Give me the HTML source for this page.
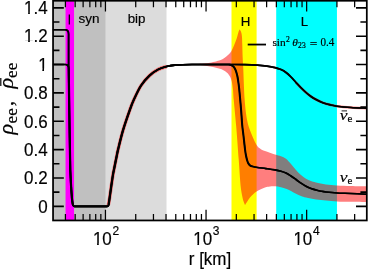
<!DOCTYPE html>
<html><head><meta charset="utf-8"><title>plot</title><style>html,body{margin:0;padding:0;background:#fff;width:368px;height:269px;overflow:hidden}svg{display:block}text{fill:#000}.tx text{stroke:#000;stroke-width:0.18px}.tx{will-change:transform}</style></head><body>
<svg width="368" height="269" viewBox="0 0 368 269">
<rect width="368" height="269" fill="#fff"/>
<rect x="53.05" y="0.75" width="52.75" height="219.70" fill="#c0c0c0"/>
<rect x="105.80" y="0.75" width="60.70" height="219.70" fill="#dcdcdc"/>
<rect x="65.55" y="0.75" width="8.50" height="219.70" fill="#ff00ff"/>
<rect x="231.50" y="0.75" width="25.10" height="219.70" fill="#ffff00"/>
<rect x="276.20" y="0.75" width="60.75" height="219.70" fill="#00ffff"/>
<g opacity="0.5"><path d="M197.00 64.05 C198.17 63.97 201.83 63.78 204.00 63.55 C206.17 63.32 208.00 63.00 210.00 62.65 C212.00 62.30 214.33 61.83 216.00 61.45 C217.67 61.07 218.67 60.87 220.00 60.35 C221.33 59.82 222.67 59.19 224.00 58.30 C225.33 57.41 226.75 56.23 228.00 55.00 C229.25 53.77 230.50 52.47 231.50 50.90 C232.50 49.33 233.17 47.58 234.00 45.60 C234.83 43.62 235.78 41.15 236.50 39.00 C237.22 36.85 237.81 34.27 238.30 32.70 C238.79 31.13 239.26 30.12 239.45 29.60 L239.45 29.60 C239.61 29.77 240.07 30.03 240.40 30.60 C240.73 31.17 241.13 31.93 241.40 33.00 C241.67 34.07 241.85 35.00 242.00 37.00 C242.15 39.00 242.18 41.50 242.30 45.00 C242.42 48.50 242.55 54.33 242.70 58.00 C242.85 61.67 242.87 60.00 243.20 67.00 C243.53 74.00 244.05 91.17 244.70 100.00 C245.35 108.83 246.07 114.58 247.10 120.00 C248.12 125.42 249.27 128.33 250.85 132.50 C252.43 136.67 255.03 142.30 256.60 145.00 C258.18 147.70 258.90 147.70 260.30 148.70 C261.70 149.70 262.55 150.03 265.00 151.00 C267.45 151.97 272.33 153.63 275.00 154.50 C277.67 155.37 279.17 155.49 281.00 156.20 C282.83 156.91 284.33 157.45 286.00 158.75 C287.67 160.05 289.33 162.12 291.00 164.00 C292.67 165.88 294.33 168.17 296.00 170.00 C297.67 171.83 299.33 173.54 301.00 175.00 C302.67 176.46 304.33 177.75 306.00 178.75 C307.67 179.75 309.33 180.38 311.00 181.00 C312.67 181.62 313.50 181.92 316.00 182.50 C318.50 183.08 322.50 184.00 326.00 184.50 C329.50 185.00 332.83 185.23 337.00 185.50 C341.17 185.77 346.03 185.93 351.00 186.10 C355.97 186.27 364.17 186.43 366.80 186.50 L366.80 202.00 C364.17 201.97 355.97 201.88 351.00 201.80 C346.03 201.72 341.17 201.72 337.00 201.50 C332.83 201.28 329.50 200.83 326.00 200.50 C322.50 200.17 319.33 200.00 316.00 199.50 C312.67 199.00 308.50 198.10 306.00 197.50 C303.50 196.90 302.67 196.53 301.00 195.90 C299.33 195.28 297.67 194.57 296.00 193.75 C294.33 192.93 292.67 191.83 291.00 191.00 C289.33 190.17 287.67 189.38 286.00 188.75 C284.33 188.12 282.83 187.62 281.00 187.20 C279.17 186.78 276.83 186.38 275.00 186.25 C273.17 186.12 271.67 186.19 270.00 186.40 C268.33 186.61 267.17 186.69 265.00 187.50 C262.83 188.31 258.88 190.21 257.00 191.25 C255.12 192.29 254.92 192.71 253.75 193.75 C252.58 194.79 251.07 196.21 250.00 197.50 C248.93 198.79 248.13 200.25 247.30 201.50 C246.47 202.75 245.38 204.42 245.00 205.00 L245.00 205.00 C244.77 204.42 244.02 202.75 243.60 201.50 C243.18 200.25 243.02 200.25 242.50 197.50 C241.98 194.75 241.12 191.25 240.50 185.00 C239.88 178.75 239.46 169.67 238.75 160.00 C238.04 150.33 237.08 137.00 236.25 127.00 C235.42 117.00 234.29 106.17 233.75 100.00 C233.21 93.83 233.34 93.12 233.00 90.00 C232.66 86.88 232.23 83.59 231.70 81.30 C231.17 79.01 230.63 77.72 229.80 76.25 C228.97 74.78 228.07 73.66 226.70 72.50 C225.33 71.34 223.38 70.11 221.60 69.30 C219.82 68.49 217.93 68.12 216.00 67.65 C214.07 67.17 212.00 66.80 210.00 66.45 C208.00 66.10 206.17 65.78 204.00 65.55 C201.83 65.32 198.17 65.13 197.00 65.05 Z" fill="#ff0000"/><path d="M108.30 205.20 C108.52 204.00 108.88 202.70 109.60 198.00 C110.32 193.30 111.82 182.00 112.60 177.00 C113.38 172.00 113.68 171.17 114.30 168.00 C114.92 164.83 115.65 161.17 116.30 158.00 C116.95 154.83 117.07 153.67 118.20 149.00 C119.33 144.33 121.17 136.50 123.10 130.00 C125.03 123.50 128.03 115.00 129.80 110.00 C131.57 105.00 131.83 104.07 133.70 100.00 C135.57 95.93 138.37 89.67 141.00 85.60 C143.63 81.53 146.62 78.30 149.50 75.60 C152.38 72.90 155.47 70.92 158.30 69.40 C161.13 67.88 165.13 66.98 166.50 66.50" fill="none" stroke="#ff0000" stroke-width="3.5" stroke-linejoin="round"/><path d="M296.00 82.50 C296.83 83.38 299.33 86.13 301.00 87.80 C302.67 89.47 304.33 91.05 306.00 92.50 C307.67 93.95 309.33 95.33 311.00 96.50 C312.67 97.67 314.33 98.60 316.00 99.50 C317.67 100.40 319.33 101.19 321.00 101.90 C322.67 102.61 324.33 103.23 326.00 103.75 C327.67 104.27 329.17 104.59 331.00 105.00 C332.83 105.41 333.67 105.78 337.00 106.20 C340.33 106.62 346.03 107.17 351.00 107.50 C355.97 107.83 364.17 108.08 366.80 108.20" fill="none" stroke="#ff0000" stroke-width="2.6" stroke-linejoin="round"/></g>
<g fill="none" stroke="#000" stroke-width="1.6" stroke-linejoin="round">
<path transform="translate(-0.22,0)" d="M53.05 64.55 L65.30 64.55 Q68.80 64.55 68.80 69.05 L68.80 70.00 C68.90 76.67 69.13 93.33 69.40 110.00 C69.67 126.67 69.97 155.33 70.40 170.00 C70.83 184.67 71.73 193.33 72.00 198.00 L72.80 204.15 Q73.20 206.35 74.40 206.35 L107.40 206.35 Q108.40 206.35 108.70 204.95 L109.70 198.00 C110.20 194.50 111.92 182.00 112.70 177.00 C113.48 172.00 113.78 171.17 114.40 168.00 C115.02 164.83 115.75 161.17 116.40 158.00 C117.05 154.83 117.17 153.67 118.30 149.00 C119.43 144.33 121.27 136.50 123.20 130.00 C125.13 123.50 128.13 115.00 129.90 110.00 C131.67 105.00 131.93 104.07 133.80 100.00 C135.67 95.93 138.47 89.67 141.10 85.60 C143.73 81.53 146.72 78.30 149.60 75.60 C152.48 72.90 155.57 70.92 158.40 69.40 C161.23 67.88 163.81 67.22 166.58 66.50 C169.36 65.78 170.82 65.44 175.06 65.10 C179.30 64.76 185.86 64.54 192.02 64.45 C198.18 64.36 206.00 64.53 212.00 64.55 C218.00 64.57 225.33 64.55 228.00 64.55 L228.00 64.55 C230.83 64.56 240.08 64.51 245.00 64.60 C249.92 64.69 253.83 64.85 257.50 65.10 C261.17 65.35 264.08 65.68 267.00 66.10 C269.92 66.52 272.67 67.02 275.00 67.60 C277.33 68.18 279.17 68.78 281.00 69.60 C282.83 70.42 284.33 71.27 286.00 72.50 C287.67 73.73 289.33 75.33 291.00 77.00 C292.67 78.67 294.33 80.70 296.00 82.50 C297.67 84.30 299.33 86.13 301.00 87.80 C302.67 89.47 304.33 91.05 306.00 92.50 C307.67 93.95 309.33 95.33 311.00 96.50 C312.67 97.67 314.33 98.60 316.00 99.50 C317.67 100.40 319.33 101.19 321.00 101.90 C322.67 102.61 324.33 103.23 326.00 103.75 C327.67 104.27 329.17 104.59 331.00 105.00 C332.83 105.41 333.67 105.78 337.00 106.20 C340.33 106.62 346.03 107.17 351.00 107.50 C355.97 107.83 364.17 108.08 366.80 108.20"/>
<path transform="translate(0.22,0)" d="M53.05 64.55 L65.30 64.55 Q68.80 64.55 68.80 69.05 L68.80 70.00 C68.90 76.67 69.13 93.33 69.40 110.00 C69.67 126.67 69.97 155.33 70.40 170.00 C70.83 184.67 71.73 193.33 72.00 198.00 L72.80 204.15 Q73.20 206.35 74.40 206.35 L107.40 206.35 Q108.40 206.35 108.70 204.95 L109.70 198.00 C110.20 194.50 111.92 182.00 112.70 177.00 C113.48 172.00 113.78 171.17 114.40 168.00 C115.02 164.83 115.75 161.17 116.40 158.00 C117.05 154.83 117.17 153.67 118.30 149.00 C119.43 144.33 121.27 136.50 123.20 130.00 C125.13 123.50 128.13 115.00 129.90 110.00 C131.67 105.00 131.93 104.07 133.80 100.00 C135.67 95.93 138.47 89.67 141.10 85.60 C143.73 81.53 146.72 78.30 149.60 75.60 C152.48 72.90 155.57 70.92 158.40 69.40 C161.23 67.88 163.81 67.22 166.58 66.50 C169.36 65.78 170.82 65.44 175.06 65.10 C179.30 64.76 185.86 64.54 192.02 64.45 C198.18 64.36 206.00 64.53 212.00 64.55 C218.00 64.57 225.33 64.55 228.00 64.55 L228.00 64.55 C230.83 64.56 240.08 64.51 245.00 64.60 C249.92 64.69 253.83 64.85 257.50 65.10 C261.17 65.35 264.08 65.68 267.00 66.10 C269.92 66.52 272.67 67.02 275.00 67.60 C277.33 68.18 279.17 68.78 281.00 69.60 C282.83 70.42 284.33 71.27 286.00 72.50 C287.67 73.73 289.33 75.33 291.00 77.00 C292.67 78.67 294.33 80.70 296.00 82.50 C297.67 84.30 299.33 86.13 301.00 87.80 C302.67 89.47 304.33 91.05 306.00 92.50 C307.67 93.95 309.33 95.33 311.00 96.50 C312.67 97.67 314.33 98.60 316.00 99.50 C317.67 100.40 319.33 101.19 321.00 101.90 C322.67 102.61 324.33 103.23 326.00 103.75 C327.67 104.27 329.17 104.59 331.00 105.00 C332.83 105.41 333.67 105.78 337.00 106.20 C340.33 106.62 346.03 107.17 351.00 107.50 C355.97 107.83 364.17 108.08 366.80 108.20"/>
<path transform="translate(-0.22,0)" d="M53.05 29.70 L65.10 29.70 Q68.60 29.70 68.60 34.20 L68.60 70.00 C68.70 76.67 68.93 93.33 69.20 110.00 C69.47 126.67 69.77 155.33 70.20 170.00 C70.63 184.67 71.53 193.33 71.80 198.00 L72.60 204.15 Q73.00 206.35 74.20 206.35 L107.20 206.35 Q108.20 206.35 108.50 204.95 L109.50 198.00 C110.00 194.50 111.72 182.00 112.50 177.00 C113.28 172.00 113.58 171.17 114.20 168.00 C114.82 164.83 115.55 161.17 116.20 158.00 C116.85 154.83 116.97 153.67 118.10 149.00 C119.23 144.33 121.07 136.50 123.00 130.00 C124.93 123.50 127.93 115.00 129.70 110.00 C131.47 105.00 131.73 104.07 133.60 100.00 C135.47 95.93 138.27 89.67 140.90 85.60 C143.53 81.53 146.52 78.30 149.40 75.60 C152.28 72.90 155.36 70.92 158.20 69.40 C161.04 67.88 163.63 67.22 166.42 66.50 C169.21 65.78 170.68 65.44 174.94 65.10 C179.20 64.76 185.80 64.54 191.98 64.45 C198.16 64.36 206.00 64.53 212.00 64.55 C218.00 64.57 225.33 64.55 228.00 64.55 L228.00 64.55 C228.27 64.57 229.03 64.54 229.60 64.65 C230.17 64.76 230.83 64.94 231.40 65.20 C231.97 65.46 232.50 65.77 233.00 66.20 C233.50 66.63 233.98 67.18 234.40 67.80 C234.82 68.42 235.15 69.07 235.50 69.90 C235.85 70.73 236.18 71.74 236.50 72.80 C236.82 73.86 237.08 74.63 237.40 76.25 C237.72 77.87 238.08 80.21 238.40 82.50 C238.72 84.79 238.85 85.42 239.30 90.00 C239.75 94.58 240.62 104.17 241.10 110.00 C241.58 115.83 241.82 120.83 242.20 125.00 C242.58 129.17 242.92 130.83 243.40 135.00 C243.88 139.17 244.65 146.50 245.10 150.00 C245.55 153.50 245.75 154.25 246.10 156.00 C246.45 157.75 246.82 159.25 247.20 160.50 C247.58 161.75 247.92 162.67 248.40 163.50 C248.88 164.33 249.37 164.98 250.10 165.50 C250.83 166.02 251.57 166.27 252.80 166.60 C254.03 166.93 255.30 167.17 257.50 167.50 C259.70 167.83 263.08 168.20 266.00 168.60 C268.92 169.00 272.50 169.47 275.00 169.90 C277.50 170.33 279.17 170.68 281.00 171.20 C282.83 171.72 284.33 172.20 286.00 173.00 C287.67 173.80 289.33 174.92 291.00 176.00 C292.67 177.08 294.33 178.30 296.00 179.50 C297.67 180.70 299.33 182.07 301.00 183.20 C302.67 184.32 304.33 185.37 306.00 186.25 C307.67 187.13 309.33 187.88 311.00 188.50 C312.67 189.12 314.33 189.55 316.00 190.00 C317.67 190.45 319.33 190.87 321.00 191.20 C322.67 191.53 323.33 191.70 326.00 192.00 C328.67 192.30 332.83 192.75 337.00 193.00 C341.17 193.25 346.03 193.29 351.00 193.50 C355.97 193.71 364.17 194.12 366.80 194.25"/>
<path transform="translate(0.22,0)" d="M53.05 29.70 L65.10 29.70 Q68.60 29.70 68.60 34.20 L68.60 70.00 C68.70 76.67 68.93 93.33 69.20 110.00 C69.47 126.67 69.77 155.33 70.20 170.00 C70.63 184.67 71.53 193.33 71.80 198.00 L72.60 204.15 Q73.00 206.35 74.20 206.35 L107.20 206.35 Q108.20 206.35 108.50 204.95 L109.50 198.00 C110.00 194.50 111.72 182.00 112.50 177.00 C113.28 172.00 113.58 171.17 114.20 168.00 C114.82 164.83 115.55 161.17 116.20 158.00 C116.85 154.83 116.97 153.67 118.10 149.00 C119.23 144.33 121.07 136.50 123.00 130.00 C124.93 123.50 127.93 115.00 129.70 110.00 C131.47 105.00 131.73 104.07 133.60 100.00 C135.47 95.93 138.27 89.67 140.90 85.60 C143.53 81.53 146.52 78.30 149.40 75.60 C152.28 72.90 155.36 70.92 158.20 69.40 C161.04 67.88 163.63 67.22 166.42 66.50 C169.21 65.78 170.68 65.44 174.94 65.10 C179.20 64.76 185.80 64.54 191.98 64.45 C198.16 64.36 206.00 64.53 212.00 64.55 C218.00 64.57 225.33 64.55 228.00 64.55 L228.00 64.55 C228.27 64.57 229.03 64.54 229.60 64.65 C230.17 64.76 230.83 64.94 231.40 65.20 C231.97 65.46 232.50 65.77 233.00 66.20 C233.50 66.63 233.98 67.18 234.40 67.80 C234.82 68.42 235.15 69.07 235.50 69.90 C235.85 70.73 236.18 71.74 236.50 72.80 C236.82 73.86 237.08 74.63 237.40 76.25 C237.72 77.87 238.08 80.21 238.40 82.50 C238.72 84.79 238.85 85.42 239.30 90.00 C239.75 94.58 240.62 104.17 241.10 110.00 C241.58 115.83 241.82 120.83 242.20 125.00 C242.58 129.17 242.92 130.83 243.40 135.00 C243.88 139.17 244.65 146.50 245.10 150.00 C245.55 153.50 245.75 154.25 246.10 156.00 C246.45 157.75 246.82 159.25 247.20 160.50 C247.58 161.75 247.92 162.67 248.40 163.50 C248.88 164.33 249.37 164.98 250.10 165.50 C250.83 166.02 251.57 166.27 252.80 166.60 C254.03 166.93 255.30 167.17 257.50 167.50 C259.70 167.83 263.08 168.20 266.00 168.60 C268.92 169.00 272.50 169.47 275.00 169.90 C277.50 170.33 279.17 170.68 281.00 171.20 C282.83 171.72 284.33 172.20 286.00 173.00 C287.67 173.80 289.33 174.92 291.00 176.00 C292.67 177.08 294.33 178.30 296.00 179.50 C297.67 180.70 299.33 182.07 301.00 183.20 C302.67 184.32 304.33 185.37 306.00 186.25 C307.67 187.13 309.33 187.88 311.00 188.50 C312.67 189.12 314.33 189.55 316.00 190.00 C317.67 190.45 319.33 190.87 321.00 191.20 C322.67 191.53 323.33 191.70 326.00 192.00 C328.67 192.30 332.83 192.75 337.00 193.00 C341.17 193.25 346.03 193.29 351.00 193.50 C355.97 193.71 364.17 194.12 366.80 194.25"/>
</g>
<line x1="247.7" y1="44.55" x2="266.0" y2="44.55" stroke="#000" stroke-width="1.8"/>
<line x1="69.35" y1="14.5" x2="69.35" y2="24.5" stroke="#000" stroke-width="1.35"/>
<path d="M65.42 220.45L65.42 214.05M65.42 0.75L65.42 7.15M75.17 220.45L75.17 214.05M75.17 0.75L75.17 7.15M83.13 220.45L83.13 214.05M83.13 0.75L83.13 7.15M89.87 220.45L89.87 214.05M89.87 0.75L89.87 7.15M95.70 220.45L95.70 214.05M95.70 0.75L95.70 7.15M100.85 220.45L100.85 214.05M100.85 0.75L100.85 7.15M105.45 220.45L105.45 209.65M105.45 0.75L105.45 11.55M135.73 220.45L135.73 214.05M135.73 0.75L135.73 7.15M153.45 220.45L153.45 214.05M153.45 0.75L153.45 7.15M166.02 220.45L166.02 214.05M166.02 0.75L166.02 7.15M175.77 220.45L175.77 214.05M175.77 0.75L175.77 7.15M183.73 220.45L183.73 214.05M183.73 0.75L183.73 7.15M190.47 220.45L190.47 214.05M190.47 0.75L190.47 7.15M196.30 220.45L196.30 214.05M196.30 0.75L196.30 7.15M201.45 220.45L201.45 214.05M201.45 0.75L201.45 7.15M206.05 220.45L206.05 209.65M206.05 0.75L206.05 11.55M236.33 220.45L236.33 214.05M236.33 0.75L236.33 7.15M254.05 220.45L254.05 214.05M254.05 0.75L254.05 7.15M266.62 220.45L266.62 214.05M266.62 0.75L266.62 7.15M276.37 220.45L276.37 214.05M276.37 0.75L276.37 7.15M284.33 220.45L284.33 214.05M284.33 0.75L284.33 7.15M291.07 220.45L291.07 214.05M291.07 0.75L291.07 7.15M296.90 220.45L296.90 214.05M296.90 0.75L296.90 7.15M302.05 220.45L302.05 214.05M302.05 0.75L302.05 7.15M306.65 220.45L306.65 209.65M306.65 0.75L306.65 11.55M336.93 220.45L336.93 214.05M336.93 0.75L336.93 7.15M354.65 220.45L354.65 214.05M354.65 0.75L354.65 7.15" stroke="#000" stroke-width="1.25" fill="none"/>
<path d="M53.05 206.35L63.85 206.35M366.80 206.35L356.00 206.35M53.05 192.17L59.45 192.17M366.80 192.17L360.40 192.17M53.05 177.99L63.85 177.99M366.80 177.99L356.00 177.99M53.05 163.81L59.45 163.81M366.80 163.81L360.40 163.81M53.05 149.63L63.85 149.63M366.80 149.63L356.00 149.63M53.05 135.45L59.45 135.45M366.80 135.45L360.40 135.45M53.05 121.27L63.85 121.27M366.80 121.27L356.00 121.27M53.05 107.09L59.45 107.09M366.80 107.09L360.40 107.09M53.05 92.91L63.85 92.91M366.80 92.91L356.00 92.91M53.05 78.73L59.45 78.73M366.80 78.73L360.40 78.73M53.05 64.55L63.85 64.55M366.80 64.55L356.00 64.55M53.05 50.37L59.45 50.37M366.80 50.37L360.40 50.37M53.05 36.19L63.85 36.19M366.80 36.19L356.00 36.19M53.05 22.01L59.45 22.01M366.80 22.01L360.40 22.01M53.05 7.83L63.85 7.83M366.80 7.83L356.00 7.83" stroke="#000" stroke-width="1.6" fill="none"/>
<rect x="53.05" y="0.75" width="313.75" height="219.70" fill="none" stroke="#000" stroke-width="1.75"/>
</svg>
<svg class="tx" width="368" height="269" viewBox="0 0 368 269" style="position:absolute;left:0;top:0"><text transform="translate(47.6,14.13) scale(1,1.045)" text-anchor="end" font-family="Liberation Sans, sans-serif" font-size="17">1.4</text>
<text transform="translate(47.6,42.49) scale(1,1.045)" text-anchor="end" font-family="Liberation Sans, sans-serif" font-size="17">1.2</text>
<text transform="translate(47.6,70.85) scale(1,1.045)" text-anchor="end" font-family="Liberation Sans, sans-serif" font-size="17">1</text>
<text transform="translate(47.6,99.21) scale(1,1.045)" text-anchor="end" font-family="Liberation Sans, sans-serif" font-size="17">0.8</text>
<text transform="translate(47.6,127.57) scale(1,1.045)" text-anchor="end" font-family="Liberation Sans, sans-serif" font-size="17">0.6</text>
<text transform="translate(47.6,155.93) scale(1,1.045)" text-anchor="end" font-family="Liberation Sans, sans-serif" font-size="17">0.4</text>
<text transform="translate(47.6,184.29) scale(1,1.045)" text-anchor="end" font-family="Liberation Sans, sans-serif" font-size="17">0.2</text>
<text transform="translate(47.6,212.65) scale(1,1.045)" text-anchor="end" font-family="Liberation Sans, sans-serif" font-size="17">0</text>
<text transform="translate(92.90,245.3) scale(1,1.045)" font-family="Liberation Sans, sans-serif" font-size="17">10</text>
<text transform="translate(112.50,235.2) scale(1,1.045)" font-family="Liberation Sans, sans-serif" font-size="12">2</text>
<text transform="translate(193.20,245.3) scale(1,1.045)" font-family="Liberation Sans, sans-serif" font-size="17">10</text>
<text transform="translate(212.80,235.2) scale(1,1.045)" font-family="Liberation Sans, sans-serif" font-size="12">3</text>
<text transform="translate(293.40,245.3) scale(1,1.045)" font-family="Liberation Sans, sans-serif" font-size="17">10</text>
<text transform="translate(313.00,235.2) scale(1,1.045)" font-family="Liberation Sans, sans-serif" font-size="12">4</text>
<rect x="23.67" y="11.86" width="4.47" height="2.87" fill="#fff"/>
<rect x="29.85" y="11.86" width="3.68" height="2.87" fill="#fff"/>
<rect x="23.67" y="40.22" width="4.47" height="2.87" fill="#fff"/>
<rect x="29.85" y="40.22" width="3.68" height="2.87" fill="#fff"/>
<rect x="37.85" y="68.58" width="4.47" height="2.87" fill="#fff"/>
<rect x="44.02" y="68.58" width="3.68" height="2.87" fill="#fff"/>
<rect x="92.60" y="243.03" width="4.47" height="2.87" fill="#fff"/>
<rect x="98.78" y="243.03" width="3.68" height="2.87" fill="#fff"/>
<rect x="192.90" y="243.03" width="4.47" height="2.87" fill="#fff"/>
<rect x="199.08" y="243.03" width="3.68" height="2.87" fill="#fff"/>
<rect x="293.10" y="243.03" width="4.47" height="2.87" fill="#fff"/>
<rect x="299.28" y="243.03" width="3.68" height="2.87" fill="#fff"/>
<text transform="translate(210,265.4) scale(1,1.045)" text-anchor="middle" font-family="Liberation Sans, sans-serif" font-size="17">r [km]</text>
<text x="88.9" y="22.8" text-anchor="middle" font-family="Liberation Sans, sans-serif" font-size="13.5">syn</text>
<text x="136.5" y="23" text-anchor="middle" font-family="Liberation Sans, sans-serif" font-size="13.3">bip</text>
<text x="245.6" y="25.7" text-anchor="middle" font-family="Liberation Sans, sans-serif" font-size="13.3">H</text>
<text x="300.7" y="25.7" font-family="Liberation Sans, sans-serif" font-size="13.3">L</text>
<g font-family="Liberation Serif, serif" stroke="#000" stroke-width="0.1">
<text x="272.4" y="45.7" font-size="11.4">sin</text>
<text x="286.1" y="41.6" font-size="7.6">2</text>
<text x="292.3" y="45.7" font-size="11.4" font-style="italic">θ</text>
<text x="297.9" y="47.7" font-size="7.6" letter-spacing="0.3">23</text>
<text x="309.7" y="48.0" font-size="13.5">=</text>
<text x="320.4" y="45.6" font-size="11.8" textLength="13.85" lengthAdjust="spacingAndGlyphs">0.4</text>
</g>
<text transform="translate(339.7,119.90) scale(1.17,1)" font-family="Liberation Serif, serif" font-size="15" font-style="italic">ν</text>
<text x="347.5" y="122.00" font-family="Liberation Serif, serif" font-size="11">e</text>
<line x1="341.6" y1="110.90" x2="347.0" y2="110.90" stroke="#000" stroke-width="0.9"/>
<text transform="translate(339.7,181.60) scale(1.17,1)" font-family="Liberation Serif, serif" font-size="15" font-style="italic">ν</text>
<text x="347.5" y="183.70" font-family="Liberation Serif, serif" font-size="11">e</text>
<g transform="translate(13,134.3) rotate(-90)" font-family="Liberation Serif, serif"><text x="-0.3" y="0" font-size="22" font-style="italic">ρ</text><text x="10.9" y="3.6" font-size="17" letter-spacing="0.2">ee</text><text x="28.1" y="0" font-size="22">,</text><text x="45.7" y="0" font-size="22" font-style="italic">ρ</text><text x="56.2" y="3.6" font-size="17" letter-spacing="0.2">ee</text><line x1="48.3" y1="-12.2" x2="56.3" y2="-12.2" stroke="#000" stroke-width="1.2"/></g>
</svg>
</body></html>
